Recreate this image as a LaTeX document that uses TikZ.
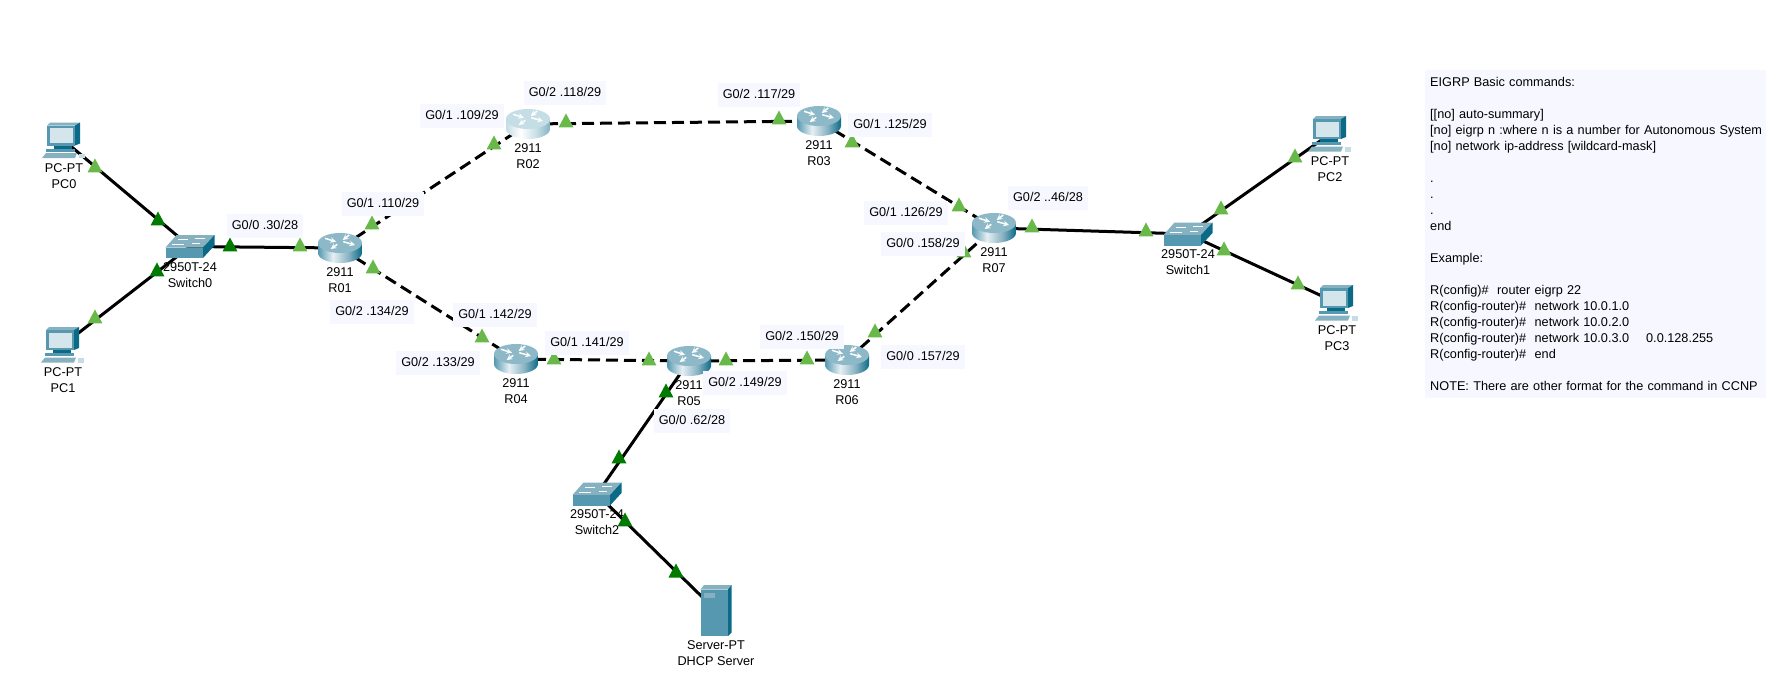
\documentclass[tikz,border=0pt]{standalone}
\usepackage{fontspec}
\setmainfont{Liberation Sans}
\usetikzlibrary{positioning,shapes.geometric,backgrounds}

\definecolor{labelfill}{HTML}{F6F7FF}
\definecolor{panelfill}{HTML}{F7F8FF}
\definecolor{lighttip}{HTML}{69B84A}
\definecolor{darktip}{HTML}{007A00}
\definecolor{iconfront}{HTML}{5598B0}
\definecolor{icontop}{HTML}{86B1C1}
\definecolor{iconside}{HTML}{0B6B87}
\definecolor{iconscreen}{HTML}{D5E5EC}
\definecolor{routertop}{HTML}{8DB8C8}
\definecolor{routerpale}{HTML}{C5DDE5}

\pgfdeclarehorizontalshading{routerbody}{100bp}{
    color(0bp)=(iconfront); color(25bp)=(iconfront); color(42bp)=(iconscreen!60!white);
    color(60bp)=(icontop); color(75bp)=(iconside); color(100bp)=(iconside)}
\pgfdeclarehorizontalshading{routerbodypale}{100bp}{
    color(0bp)=(routerpale); color(25bp)=(routerpale); color(42bp)=(white);
    color(60bp)=(routerpale); color(75bp)=(icontop); color(100bp)=(icontop)}

\newcommand{\routericon}[2]{
    \begin{scope}[shift={(path picture bounding box.center)}]
        \shade[shading=#2] (-22,-5) -- (-22,5)
            arc[start angle=180, end angle=0, x radius=22, y radius=10] -- (22,-5) -- cycle;
        \fill[#1] (0,-5) ellipse [x radius=22, y radius=10];
        \draw[->, >=stealth, white, line width=1.5] (-15,-9.7) -- (-4,-6.3);
        \draw[<-, >=stealth, white, line width=1.5] (15,-3) -- (3.3,-6.3);
        \draw[->, >=stealth, white, line width=1.5] (9.3,-13) -- (2.7,-8);
        \draw[<-, >=stealth, white, line width=1.5] (-9.3,1) -- (-2.7,-3.7);
    \end{scope}
}
\newcommand{\switchicon}{
    \begin{scope}[shift={(path picture bounding box.center)}]
        \fill[icontop] (-24.5,1) -- (-13.5,-11.5) -- (24.5,-11.5) -- (13,1) -- cycle;
        \fill[iconfront] (-24.5,1) rectangle (13,11.5);
        \fill[iconside] (13,1) -- (24.5,-11.5) -- (24.5,-1) -- (13,11.5) -- cycle;
        \draw[white, line width=0.6] (-12,-7) -- (-2,-7) (5,-8) -- (15,-8) (-18,-2) -- (-6,-2) (2,-3) -- (10,-3);
    \end{scope}
}
\newcommand{\pcicon}{
    \begin{scope}[shift={(path picture bounding box.center)}]
        \fill[icontop] (-17,-15) -- (-14,-18) -- (16,-18) -- (11,-15) -- cycle;
        \fill[iconfront] (-17,-15) rectangle (11,5);
        \fill[iconside] (11,-15) -- (16,-18) -- (16,3) -- (11,5) -- cycle;
        \fill[iconscreen] (-14.5,-12.5) rectangle (8.5,2.5);
        \fill[iconside] (-10,5) rectangle (8,8);
        \fill[iconfront] (-18,8) rectangle (11,11);
        \fill[icontop] (-22,17.5) -- (-18,12.5) -- (13,12.5) -- (11,17.5) -- cycle;
        \fill[routerpale] (15,13) rectangle (21,17.5);
    \end{scope}
}
\newcommand{\servericon}{
    \begin{scope}[shift={(path picture bounding box.center)}]
        \fill[icontop] (-15.5,-21) -- (-12,-25.5) -- (15.5,-25.5) -- (12,-21) -- cycle;
        \fill[iconfront] (-15.5,-21) rectangle (12,25.5);
        \fill[iconside] (12,-21) -- (15.5,-25.5) -- (15.5,22) -- (12,25.5) -- cycle;
        \fill[icontop] (-12.5,-18) rectangle (-1,-13);
    \end{scope}
}

\begin{document}
\begin{tikzpicture}[
    x=1pt, y=-1pt,
    every node/.style={font=\fontsize{12.7}{16}\selectfont},
    routernode/.style={rectangle, minimum width=44, minimum height=30, inner sep=0,
        path picture={\routericon{routertop}{routerbody}}},
    paleroutnode/.style={rectangle, minimum width=44, minimum height=30, inner sep=0,
        path picture={\routericon{routerpale}{routerbodypale}}},
    switchnode/.style={rectangle, minimum width=49, minimum height=23, inner sep=0,
        path picture={\switchicon}},
    pcnode/.style={rectangle, minimum width=44, minimum height=36, inner sep=0,
        path picture={\pcicon}},
    servernode/.style={rectangle, minimum width=31, minimum height=51, inner sep=0,
        path picture={\servericon}},
    capnode/.style={align=center, inner sep=0},
    portnode/.style={fill=labelfill, inner xsep=5, inner ysep=0, minimum height=24,
        text height=9, text depth=2},
    tipnode/.style={isosceles triangle, isosceles triangle stretches, shape border rotate=90,
        minimum width=15, minimum height=14, inner sep=0},
    lighttipnode/.style={tipnode, fill=lighttip},
    darktipnode/.style={tipnode, fill=darktip},
    solidlink/.style={draw=black, line width=3},
    dashlink/.style={draw=black, line width=3, dash pattern=on 12 off 6}
    ]
        \useasboundingbox (0,0) rectangle (1786,678);

        %Devices
        \node[pcnode]       (PC0)       at (64,140.5)   {};
        \node[pcnode]       (PC1)       at (63,345)     {};
        \node[pcnode]       (PC2)       at (1330,134)   {};
        \node[pcnode]       (PC3)       at (1337,303)   {};
        \node[switchnode]   (Switch0)   at (190,246.5)  {};
        \node[switchnode]   (Switch1)   at (1188,234)   {};
        \node[switchnode]   (Switch2)   at (597,494)    {};
        \node[servernode]   (Server)    at (716,610.5)  {};
        \node[routernode]   (R01)       at (340,248)    {};
        \node[paleroutnode] (R02)       at (528,124)    {};
        \node[routernode]   (R03)       at (819,121)    {};
        \node[routernode]   (R04)       at (516,359)    {};
        \node[routernode]   (R05)       at (689,361)    {};
        \node[routernode]   (R06)       at (847,360)    {};
        \node[routernode]   (R07)       at (994,228)    {};

        %Captions
        \node[capnode] (capPC0)     [below=5pt of PC0]      {PC-PT\\PC0};
        \node[capnode] (capPC1)     [below=4pt of PC1]      {PC-PT\\PC1};
        \node[capnode] (capPC2)     [below=4pt of PC2]      {PC-PT\\PC2};
        \node[capnode] (capPC3)     [below=4pt of PC3]      {PC-PT\\PC3};
        \node[capnode] (capSwitch0) [below=4pt of Switch0]  {2950T-24\\Switch0};
        \node[capnode] (capSwitch1) [below=4pt of Switch1]  {2950T-24\\Switch1};
        \node[capnode] (capSwitch2) [below=4pt of Switch2]  {2950T-24\\Switch2};
        \node[capnode] (capServer)  [below=4pt of Server]   {Server-PT\\DHCP Server};
        \node[capnode] (capR01)     [below=4pt of R01]      {2911\\R01};
        \node[capnode] (capR02)     [below=4pt of R02]      {2911\\R02};
        \node[capnode] (capR03)     [below=4pt of R03]      {2911\\R03};
        \node[capnode] (capR04)     [below=4pt of R04]      {2911\\R04};
        \node[capnode] (capR05)     [below=4pt of R05]      {2911\\R05};
        \node[capnode] (capR06)     [below=4pt of R06]      {2911\\R06};
        \node[capnode] (capR07)     [below=4pt of R07]      {2911\\R07};

        %Lines
        \begin{scope}[on background layer]
            \draw[solidlink] (PC0.center) -- (Switch0.center);
            \draw[solidlink] (PC1.center) -- (Switch0.center);
            \draw[solidlink] (Switch0.center) -- (R01.center);
            \draw[dashlink] (R01.center) -- (R02.center);
            \draw[dashlink] (R01.center) -- (R04.center);
            \draw[dashlink] (R02.center) -- (R03.center);
            \draw[dashlink] (R03.center) -- (R07.center);
            \draw[dashlink] (R04.center) -- (R05.center);
            \draw[dashlink] (R05.center) -- (R06.center);
            \draw[dashlink] (R06.center) -- (R07.center);
            \draw[solidlink] (R07.center) -- (Switch1.center);
            \draw[solidlink] (Switch1.center) -- (PC2.center);
            \draw[solidlink] (Switch1.center) -- (PC3.center);
            \draw[solidlink] (R05.center) -- (Switch2.center);
            \draw[solidlink] (Switch2.center) -- (Server.center);
        \end{scope}

        %Link lights
        \node[lighttipnode] (tipA1) at (95,168)     {};
        \node[darktipnode]  (tipA2) at (158,221)    {};
        \node[lighttipnode] (tipB1) at (95,319)     {};
        \node[darktipnode]  (tipB2) at (157,272)    {};
        \node[darktipnode]  (tipC1) at (230,247)    {};
        \node[lighttipnode] (tipC2) at (300,247)    {};
        \node[lighttipnode] (tipD1) at (372,225)    {};
        \node[lighttipnode] (tipD2) at (494,145)    {};
        \node[lighttipnode] (tipE1) at (373,269)    {};
        \node[lighttipnode] (tipE2) at (482,338)    {};
        \node[lighttipnode] (tipF1) at (566,123)    {};
        \node[lighttipnode] (tipF2) at (779,120)    {};
        \node[lighttipnode] (tipG1) at (852,143)    {};
        \node[lighttipnode] (tipG2) at (959,207)    {};
        \node[lighttipnode] (tipH1) at (554,360)    {};
        \node[lighttipnode] (tipH2) at (649,361)    {};
        \node[lighttipnode] (tipI1) at (726,361)    {};
        \node[lighttipnode] (tipI2) at (807,360)    {};
        \node[lighttipnode] (tipJ1) at (875,333)    {};
        \node[lighttipnode] (tipJ2) at (964,253)    {};
        \node[lighttipnode] (tipK1) at (1032,228)   {};
        \node[lighttipnode] (tipK2) at (1146,232)   {};
        \node[lighttipnode] (tipL1) at (1221,210)   {};
        \node[lighttipnode] (tipL2) at (1295,158)   {};
        \node[lighttipnode] (tipM1) at (1224,251)   {};
        \node[lighttipnode] (tipM2) at (1298,285)   {};
        \node[darktipnode]  (tipN1) at (666,393)    {};
        \node[darktipnode]  (tipN2) at (619,459)    {};
        \node[darktipnode]  (tipO1) at (625,522)    {};
        \node[darktipnode]  (tipO2) at (676,573)    {};

        %Port labels
        \node[portnode] (portA) at (265,226)    {G0/0 .30/28};
        \node[portnode] (portB) at (383,204)    {G0/1 .110/29};
        \node[portnode] (portC) at (372,312)    {G0/2 .134/29};
        \node[portnode] (portD) at (462,116)    {G0/1 .109/29};
        \node[portnode] (portE) at (565,93)     {G0/2 .118/29};
        \node[portnode] (portF) at (759,95)     {G0/2 .117/29};
        \node[portnode] (portG) at (890,125)    {G0/1 .125/29};
        \node[portnode] (portH) at (906,213)    {G0/1 .126/29};
        \node[portnode] (portI) at (923,244)    {G0/0 .158/29};
        \node[portnode] (portJ) at (1048,198)   {G0/2 ..46/28};
        \node[portnode] (portK) at (923,357)    {G0/0 .157/29};
        \node[portnode] (portL) at (495,315)    {G0/1 .142/29};
        \node[portnode] (portM) at (438,363)    {G0/2 .133/29};
        \node[portnode] (portN) at (587,343)    {G0/1 .141/29};
        \node[portnode] (portO) at (802,337)    {G0/2 .150/29};
        \node[portnode] (portP) at (745,383)    {G0/2 .149/29};
        \node[portnode] (portQ) at (692,421)    {G0/0 .62/28};

        %Notes
        \node[fill=panelfill, anchor=north west, align=left, text width=331, inner xsep=5,
            inner ysep=0, minimum height=328] (notes) at (1425,70) {
            EIGRP Basic commands:\\[16pt]
            [[no] auto-summary]\\
            \mbox{[no] eigrp n :where n is a number for Autonomous System}\\
            \mbox{[no] network ip-address [wildcard-mask]}\\[16pt]
            .\\
            .\\
            .\\
            end\\[16pt]
            Example:\\[16pt]
            R(config)\#\ \ router eigrp 22\\
            R(config-router)\#\ \ network 10.0.1.0\\
            R(config-router)\#\ \ network 10.0.2.0\\
            R(config-router)\#\ \ network 10.0.3.0\ \ \ \ 0.0.128.255\\
            R(config-router)\#\ \ end\\[16pt]
            NOTE: There are other format for the command in CCNP
        };
\end{tikzpicture}
\end{document}
